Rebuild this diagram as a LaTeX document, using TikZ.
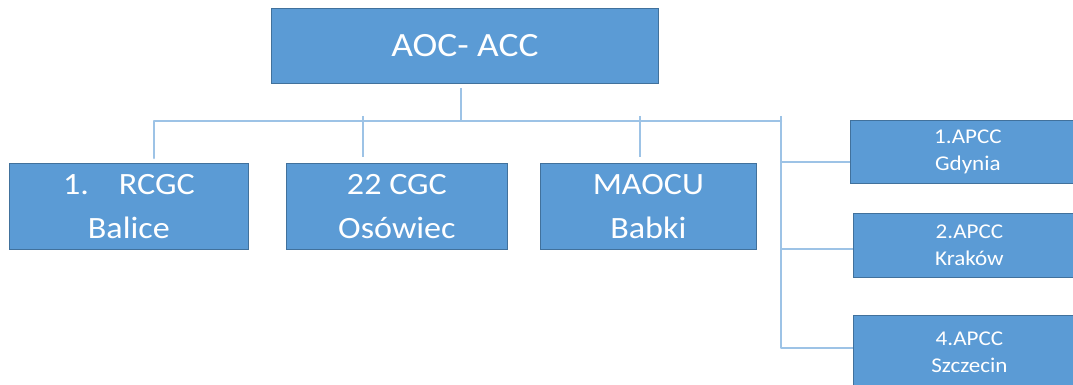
\documentclass[tikz,border=0pt]{standalone}
\usepackage{fontspec}
\setmainfont[FakeStretch=1.1]{Carlito}
\definecolor{boxfill}{HTML}{5B9BD5}
\definecolor{boxline}{HTML}{41719C}
\definecolor{connc}{HTML}{9DC3E6}
\begin{document}
\begin{tikzpicture}[x=1pt,y=-1pt,
  box/.style={draw=boxline, line width=0.8pt, fill=boxfill, text=white, anchor=north west, inner sep=0pt, align=center},
  big/.style={box, font=\fontsize{34}{40}\selectfont},
  mid/.style={box, font=\fontsize{31}{44}\selectfont},
  small/.style={box, font=\fontsize{21}{27}\selectfont},
  conn/.style={draw=connc, line width=2.6pt}]
\useasboundingbox (0,0) rectangle (1073,385);
\clip (0,0) rectangle (1073,385);
% boxes
\node[big, minimum width=387pt, minimum height=75pt] (top) at (271,8) {AOC- ACC};
\node[mid, minimum width=239pt, minimum height=86pt] (b1) at (9,163) {1.\hspace{30pt}RCGC\\Balice};
\node[mid, minimum width=221pt, minimum height=86pt] (b2) at (286,163) {22 CGC\\Osówiec};
\node[mid, minimum width=216pt, minimum height=86pt] (b3) at (540,163) {MAOCU\\Babki};
\node[small, minimum width=235pt, minimum height=63pt] (ra) at (850,120) {1.APCC\\Gdynia};
\node[small, minimum width=232pt, minimum height=64pt] (rb) at (853,213) {2.APCC\\Kraków};
\node[small, minimum width=232pt, minimum height=73pt] (rc) at (853,315) {4.APCC\\Szczecin};
% junction coordinates
\coordinate (tj) at (461,121);
\coordinate (j1) at (154,121);
\coordinate (j2) at (363,121);
\coordinate (j3) at (640,121);
\coordinate (jr) at (781,121);
\coordinate (ka) at (781,162);
\coordinate (kb) at (781,249);
\coordinate (kc) at (781,348);
% connectors
\draw[conn, shorten >=4pt] (tj) -- (tj |- top.south);
\draw[conn, line cap=round, line join=round] (j1 |- b1.north) ++(0,-5) -- (j1) -- (jr);
\draw[conn, shorten >=6pt] ([yshift=5pt]j2) -- (j2 |- b2.north);
\draw[conn, shorten >=6pt] ([yshift=5pt]j3) -- (j3 |- b3.north);
\draw[conn, line join=round] ([yshift=5pt]jr) -- (kc) -- (kc -| rc.west);
\draw[conn] (ka) -- (ka -| ra.west);
\draw[conn] (kb) -- (kb -| rb.west);
\end{tikzpicture}
\end{document}
